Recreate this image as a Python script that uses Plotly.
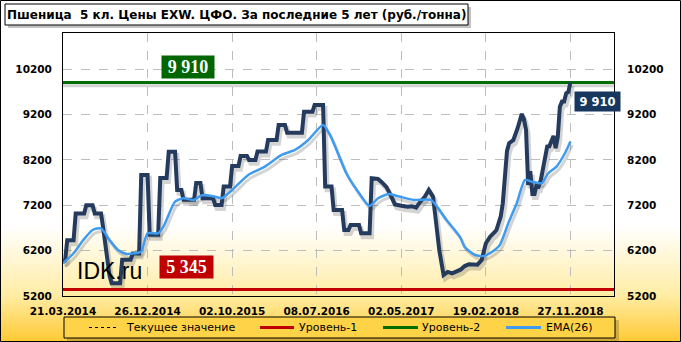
import base64
import plotly.graph_objects as go

# ---------------- data ----------------
# weekly index: week 0 = 21.03.2014
price_week = [0, 1, 2, 5, 6, 10, 11, 14, 15, 18, 19, 20, 21, 22, 23, 27, 28, 32, 33, 36,
              37, 40, 41, 45, 46, 49, 50, 53, 54, 56, 57, 62, 63, 65, 66, 71, 72, 75, 76, 79,
              80, 83, 84, 87, 88, 91, 92, 96, 97, 101, 102, 105, 106, 113, 114, 118, 119, 123, 124, 127,
              128, 132, 133, 135, 136, 140, 141, 145, 146, 149, 151, 153, 155, 157, 160, 163, 165, 167, 169, 171,
              173, 175, 176, 178, 180, 182, 184, 186, 188, 190, 192, 196, 198, 200, 202, 204, 205, 206, 207, 208,
              209, 210, 211, 213, 215, 217, 218, 219, 220, 221, 222, 223, 224, 225, 226, 228, 229, 230, 231, 232,
              233, 234, 235, 236, 237, 238, 239, 240]
price_val = [5960, 5980, 6430, 6430, 7020, 7020, 7200, 7200, 7020, 7020, 6700, 6300, 5950, 5650, 5480, 5480, 6000, 6000, 6140, 6140,
             7870, 7870, 6550, 6550, 7800, 7800, 8380, 8380, 7540, 7540, 7320, 7320, 7690, 7690, 7355, 7355, 7207, 7207, 7616, 7616,
             8068, 8068, 8289, 8289, 8200, 8200, 8384, 8384, 8641, 8641, 8972, 8972, 8802, 8802, 9266, 9266, 9413, 9413, 7616, 7616,
             7097, 7097, 6656, 6656, 6766, 6766, 6583, 6583, 7796, 7780, 7700, 7600, 7420, 7220, 7190, 7170, 7180, 7150, 7280, 7380,
             7540, 7390, 7000, 6200, 5663, 5730, 5700, 5740, 5780, 5860, 5900, 5890, 5994, 6363, 6508, 6600, 6656, 6804, 6949, 7245,
             7800, 8400, 8569, 8641, 8900, 9215, 9100, 8862, 7650, 7950, 7450, 7450, 7650, 7620, 7760, 8273, 8495, 8500, 8600, 8730,
             8460, 8700, 9376, 9487, 9487, 9672, 9700, 9910]

ema_week = [0, 5, 9.6, 14, 18, 22, 26, 30, 34, 37, 40, 45, 47.5, 53, 57, 62, 65, 67, 72, 75,
            80, 87.6, 95.5, 103.4, 109.7, 116, 123, 126.3, 134, 139, 145, 149, 154, 158, 166, 174, 181.4, 187.7, 190, 195,
            199, 203, 206.6, 210.6, 214.6, 218.5, 221.6, 226.4, 229.5, 233.4, 237.4, 240]
ema_val = [5921, 6142, 6435, 6656, 6693, 6435, 6215, 6127, 6142, 6177, 6583, 6583, 6729, 7280, 7355, 7318, 7406, 7428, 7390, 7355,
           7538, 7869, 8053, 8310, 8421, 8641, 8972, 8752, 7907, 7538, 7186, 7355, 7450, 7406, 7318, 7318, 6877, 6508, 6280, 6104,
           6083, 6177, 6325, 6804, 7245, 7759, 7722, 7686, 7907, 8053, 8348, 8605]

level1 = 5345
level2 = 9910
last_value = 9910

x_range = [0, 260.6]
y_range = [5200, 11000]
x_tickvals = [0, 40, 80, 120, 160, 200, 240]
x_ticktext = ["21.03.2014", "26.12.2014", "02.10.2015", "08.07.2016",
              "02.05.2017", "19.02.2018", "27.11.2018"]
y_ticks = [5200, 6200, 7200, 8200, 9200, 10200]

series_names = ["Текущее значение", "Уровень-1", "Уровень-2", "EMA(26)"]

title_text = "Пшеница\u00a0 5 кл. Цены EXW. ЦФО. За последние 5 лет (руб./тонна)"

# ---------------- geometry helpers (pixels -> paper) ----------------
W, H = 681, 342
L, R, T, B = 63, 67, 33, 46
PW, PH = W - L - R, H - T - B


def px(x):
    return (x - L) / PW


def py(y):
    return (H - B - y) / PH


def fmt(v):
    return f"{v:,}".replace(",", " ")


NAVY = "#243B5E"
BLUE = "#3E9BF0"
RED = "#C00000"
GREEN = "#006E00"
SHADOW = "rgba(60,60,60,0.22)"

# small drop-shadow offset (style only)
SH_DX, SH_DY = 0.9, -75

fig = go.Figure()

# shadows
fig.add_trace(go.Scatter(x=[w + SH_DX for w in price_week], y=[v + SH_DY for v in price_val], mode="lines",
                         line=dict(color=SHADOW, width=5), showlegend=False, hoverinfo="skip"))
fig.add_trace(go.Scatter(x=[w + SH_DX for w in ema_week], y=[v + SH_DY for v in ema_val], mode="lines",
                         line=dict(color=SHADOW, width=3, shape="spline", smoothing=0.6),
                         showlegend=False, hoverinfo="skip"))
fig.add_trace(go.Scatter(x=x_range, y=[level2 + SH_DY, level2 + SH_DY], mode="lines",
                         line=dict(color=SHADOW, width=3), showlegend=False, hoverinfo="skip"))

# levels
fig.add_trace(go.Scatter(x=x_range, y=[level1, level1], mode="lines", name=series_names[1],
                         line=dict(color=RED, width=3), showlegend=False, hoverinfo="skip"))
fig.add_trace(go.Scatter(x=x_range, y=[level2, level2], mode="lines", name=series_names[2],
                         line=dict(color=GREEN, width=3), showlegend=False, hoverinfo="skip"))
# price
fig.add_trace(go.Scatter(x=price_week, y=price_val, mode="lines", name=series_names[0],
                         line=dict(color=NAVY, width=4), showlegend=False, hoverinfo="skip"))
# EMA
fig.add_trace(go.Scatter(x=ema_week, y=ema_val, mode="lines", name=series_names[3],
                         line=dict(color=BLUE, width=2.5, shape="spline", smoothing=0.6),
                         showlegend=False, hoverinfo="skip"))
fig.add_trace(go.Scatter(x=[None], y=[None], yaxis="y2", showlegend=False, hoverinfo="skip"))

svg = ('<svg xmlns="http://www.w3.org/2000/svg" width="681" height="342" preserveAspectRatio="none">'
       '<defs><linearGradient id="g" x1="0" y1="0" x2="0" y2="1">'
       '<stop offset="0" stop-color="#FFFFFF"/>'
       '<stop offset="0.66" stop-color="#FFFFFF"/>'
       '<stop offset="0.86" stop-color="#FFEDA6"/>'
       '<stop offset="1" stop-color="#FFC933"/>'
       '</linearGradient></defs>'
       '<rect width="681" height="342" fill="url(#g)"/></svg>')
src = "data:image/svg+xml;base64," + base64.b64encode(svg.encode()).decode()

tick_font = dict(family="DejaVu Sans", size=10.5, color="black", weight="bold")

shapes = [
    dict(type="rect", xref="paper", yref="paper", x0=px(0.5), x1=px(680.5), y0=py(0.5), y1=py(341.5),
         line=dict(color="black", width=1), fillcolor="rgba(0,0,0,0)", layer="above"),
    dict(type="rect", xref="paper", yref="paper", x0=px(8), x1=px(471), y0=py(7), y1=py(28),
         line=dict(width=0), fillcolor="rgba(120,120,120,0.45)", layer="above"),
    dict(type="rect", xref="paper", yref="paper", x0=px(5), x1=px(468), y0=py(4), y1=py(25),
         line=dict(color="black", width=1), fillcolor="white", layer="above"),
    dict(type="rect", xref="paper", yref="paper", x0=px(67), x1=px(619), y0=py(320), y1=py(341),
         line=dict(width=0), fillcolor="rgba(120,100,40,0.35)", layer="below"),
    dict(type="rect", xref="paper", yref="paper", x0=px(64), x1=px(615), y0=py(317), y1=py(338),
         line=dict(color="black", width=1), fillcolor="#FFD348", layer="below"),
]

# manual legend (sample line + name)
legend_items = [
    (series_names[0], dict(color="black", width=1, dash="3px,3px"), 89, 119, 124),
    (series_names[1], dict(color=RED, width=3), 260, 294, 297),
    (series_names[2], dict(color=GREEN, width=3), 383, 418, 420),
    (series_names[3], dict(color=BLUE, width=3), 506, 541, 544),
]
LEG_Y = 327.5

annotations = [
    dict(text=title_text, xref="paper", yref="paper", x=px(236.5), y=py(14.5),
         xanchor="center", yanchor="middle", showarrow=False,
         font=dict(family="DejaVu Sans", size=12, color="black", weight="bold")),
    dict(text=fmt(level2), xref="paper", yref="paper",
         x=px(188), y=py(67), xanchor="center", yanchor="middle", showarrow=False,
         bgcolor="#006600", width=48, height=18, borderpad=2,
         font=dict(family="Liberation Serif", size=18, color="white", weight="bold")),
    dict(text=fmt(level1), xref="paper", yref="paper",
         x=px(186.5), y=py(267), xanchor="center", yanchor="middle", showarrow=False,
         bgcolor=RED, width=49, height=18, borderpad=2,
         font=dict(family="Liberation Serif", size=18, color="white", weight="bold")),
    dict(text=fmt(last_value), xref="paper", yref="paper",
         x=px(597.5), y=py(101), xanchor="center", yanchor="middle", showarrow=False,
         bgcolor="#17375E", width=41, height=15, borderpad=2,
         font=dict(family="DejaVu Sans", size=11.5, color="white", weight="bold")),
    dict(text="IDK.ru", xref="paper", yref="paper", x=px(75), y=py(271),
         xanchor="left", yanchor="middle", showarrow=False,
         font=dict(family="Liberation Sans", size=23, color="black")),
]

for name, ln, x0, x1, xt in legend_items:
    shapes.append(dict(type="line", xref="paper", yref="paper", x0=px(x0), x1=px(x1),
                       y0=py(LEG_Y), y1=py(LEG_Y), line=ln, layer="above"))
    annotations.append(dict(text=name, xref="paper", yref="paper", x=px(xt), y=py(LEG_Y),
                            xanchor="left", yanchor="middle", showarrow=False,
                            font=dict(family="DejaVu Sans", size=11, color="black")))

fig.update_layout(
    width=W, height=H, autosize=False,
    margin=dict(l=L, r=R, t=T, b=B, pad=0, autoexpand=False),
    paper_bgcolor="white", plot_bgcolor="rgba(0,0,0,0)",
    images=[dict(source=src, xref="paper", yref="paper", x=px(0), y=py(0),
                 sizex=W / PW, sizey=H / PH, xanchor="left", yanchor="top",
                 sizing="stretch", layer="below")],
    shapes=shapes, annotations=annotations,
    showlegend=False,
    xaxis=dict(range=x_range, tickvals=x_tickvals, ticktext=x_ticktext,
               showgrid=True, gridcolor="#BDBDBD", griddash="dash", gridwidth=1,
               showline=True, linecolor="black", linewidth=1, mirror=True,
               ticks="outside", ticklen=5, tickcolor="rgba(0,0,0,0)",
               zeroline=False, tickfont=tick_font, fixedrange=True),
    yaxis=dict(range=y_range, tickvals=y_ticks, tickformat="d",
               showgrid=True, gridcolor="#BDBDBD", griddash="dash", gridwidth=1,
               showline=True, linecolor="black", linewidth=1, mirror=True,
               ticks="outside", ticklen=8, tickcolor="rgba(0,0,0,0)",
               zeroline=False, tickfont=tick_font, fixedrange=True),
    yaxis2=dict(range=y_range, tickvals=y_ticks, tickformat="d", overlaying="y", side="right",
                showgrid=False, zeroline=False, showline=False,
                ticks="outside", ticklen=10, tickcolor="rgba(0,0,0,0)",
                tickfont=tick_font, fixedrange=True),
)

fig.write_html("out.html")
